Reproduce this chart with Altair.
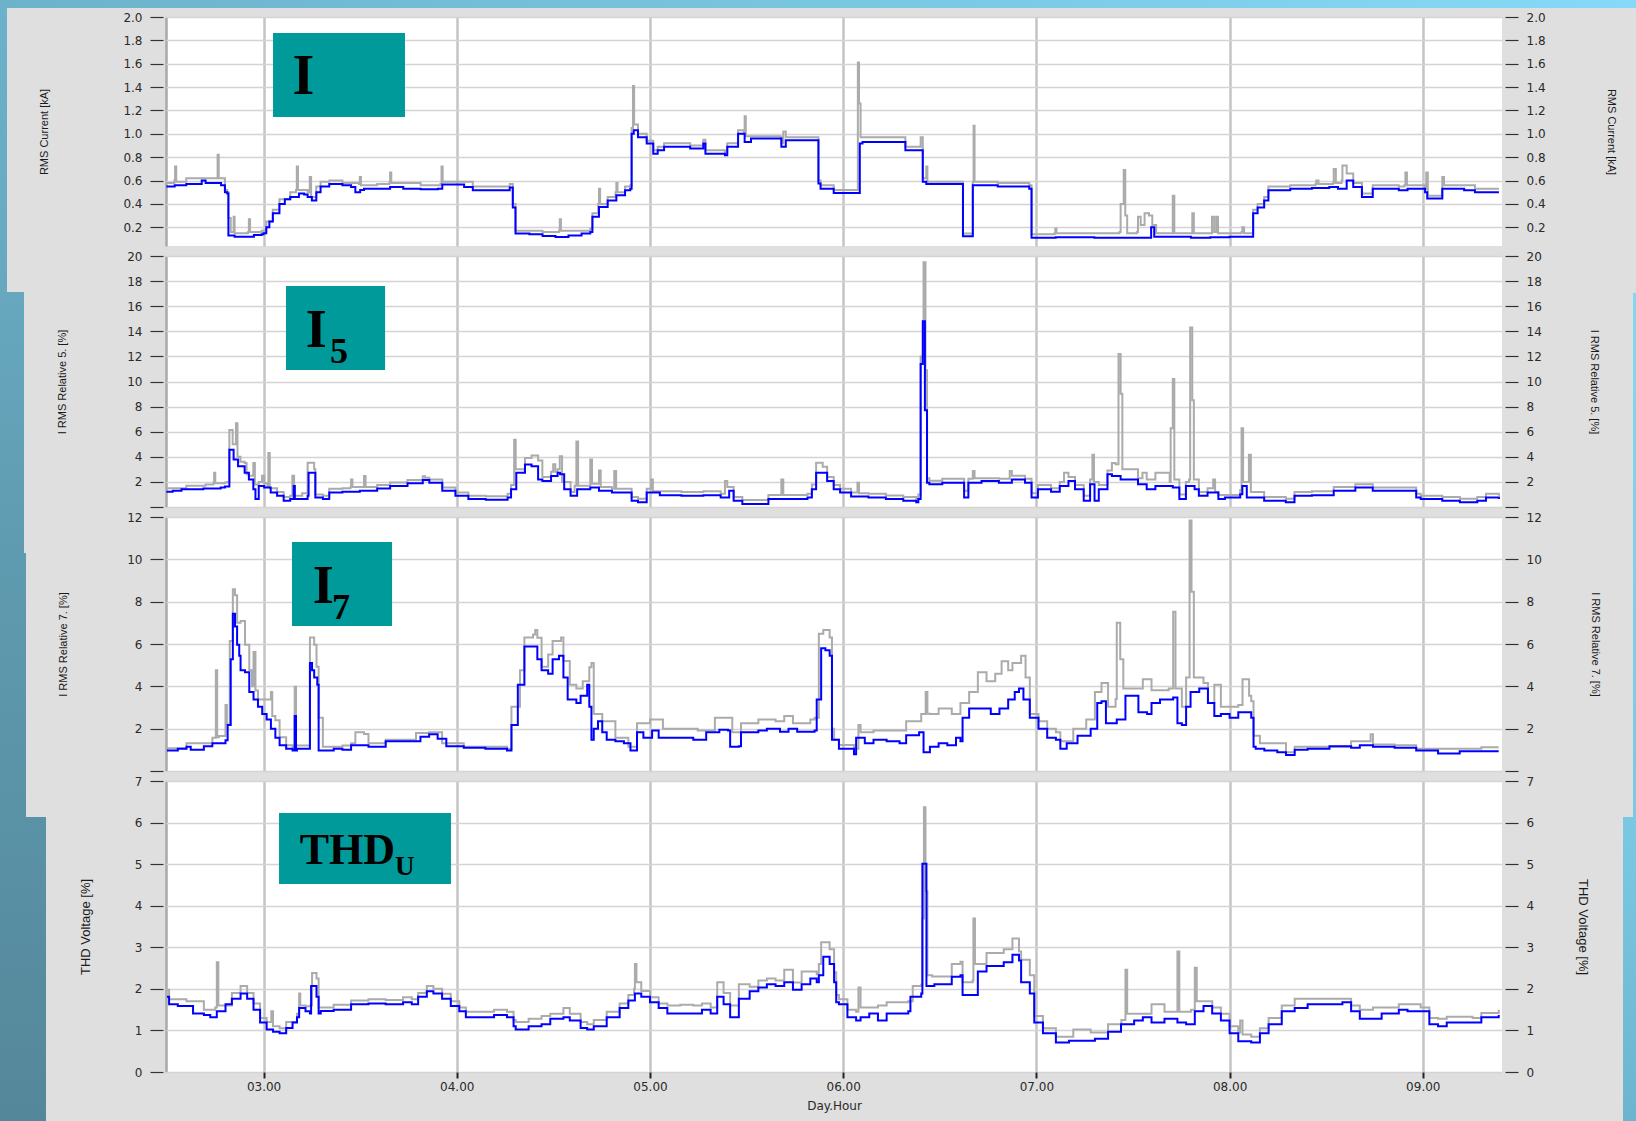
import altair as alt
import pandas as pd

# Time axis in days (day-of-month with fractional hours)
X_MIN, X_MAX = 2.495, 9.41
DAY_TICKS = [3, 4, 5, 6, 7, 8, 9]

# ---------------- RMS current [kA] ----------------
I_AVG = [(2.497,0.55),(2.54,0.56),(2.60,0.57),(2.68,0.60),(2.70,0.58),(2.76,0.58),(2.78,0.56),(2.80,0.50),(2.812,0.49),(2.818,0.13),(2.85,0.12),(2.90,0.12),(2.95,0.135),(2.99,0.14),(3.00,0.15),(3.014,0.20),(3.03,0.25),(3.048,0.32),(3.082,0.40),(3.11,0.44),(3.138,0.46),(3.183,0.49),(3.21,0.48),(3.228,0.46),(3.25,0.43),(3.273,0.50),(3.295,0.55),(3.34,0.57),(3.408,0.56),(3.453,0.546),(3.475,0.50),(3.50,0.52),(3.52,0.53),(3.588,0.53),(3.655,0.546),(3.723,0.53),(3.813,0.526),(3.903,0.53),(3.925,0.566),(3.993,0.566),(4.038,0.546),(4.083,0.517),(4.24,0.517),(4.274,0.54),(4.29,0.37),(4.304,0.146),(4.376,0.14),(4.444,0.126),(4.511,0.117),(4.578,0.13),(4.646,0.146),(4.691,0.16),(4.702,0.29),(4.736,0.374),(4.781,0.43),(4.826,0.474),(4.871,0.517),(4.898,0.53),(4.905,1.0),(4.916,1.03),(4.938,0.97),(4.983,0.917),(5.017,0.83),(5.04,0.86),(5.073,0.89),(5.163,0.89),(5.208,0.874),(5.276,0.917),(5.287,0.83),(5.388,0.817),(5.40,0.89),(5.456,1.0),(5.49,0.93),(5.523,0.96),(5.658,0.96),(5.68,0.89),(5.703,0.946),(5.861,0.946),(5.872,0.574),(5.883,0.53),(5.951,0.494),(6.074,0.494),(6.086,0.917),(6.10,0.93),(6.311,0.93),(6.322,0.86),(6.401,0.86),(6.412,0.59),(6.43,0.57),(6.612,0.57),(6.62,0.123),(6.666,0.123),(6.671,0.56),(6.80,0.55),(6.963,0.53),(6.975,0.11),(7.10,0.115),(7.30,0.11),(7.58,0.11),(7.594,0.20),(7.61,0.12),(7.80,0.11),(7.90,0.115),(8.00,0.12),(8.111,0.12),(8.122,0.32),(8.145,0.37),(8.179,0.43),(8.201,0.517),(8.314,0.53),(8.426,0.536),(8.516,0.546),(8.561,0.53),(8.606,0.60),(8.64,0.546),(8.685,0.46),(8.73,0.46),(8.741,0.53),(8.876,0.517),(8.921,0.53),(9.012,0.50),(9.023,0.446),(9.09,0.446),(9.101,0.53),(9.214,0.517),(9.27,0.50),(9.394,0.50)]
I_MAX = [(2.497,0.58),(2.538,0.60),(2.542,0.72),(2.548,0.59),(2.60,0.62),(2.68,0.62),(2.756,0.62),(2.762,0.82),(2.768,0.62),(2.80,0.52),(2.812,0.50),(2.818,0.28),(2.83,0.16),(2.842,0.16),(2.845,0.29),(2.85,0.15),(2.92,0.16),(2.924,0.27),(2.93,0.16),(2.99,0.17),(3.014,0.25),(3.048,0.35),(3.082,0.44),(3.138,0.50),(3.168,0.52),(3.172,0.72),(3.178,0.52),(3.228,0.50),(3.239,0.63),(3.246,0.46),(3.273,0.55),(3.295,0.59),(3.34,0.60),(3.408,0.58),(3.494,0.57),(3.498,0.63),(3.504,0.56),(3.588,0.57),(3.651,0.58),(3.655,0.67),(3.661,0.58),(3.813,0.56),(3.915,0.57),(3.921,0.72),(3.927,0.59),(3.993,0.59),(4.083,0.55),(4.24,0.55),(4.274,0.57),(4.29,0.40),(4.304,0.17),(4.444,0.16),(4.529,0.17),(4.533,0.27),(4.539,0.17),(4.646,0.17),(4.691,0.19),(4.702,0.32),(4.732,0.40),(4.736,0.53),(4.742,0.40),(4.781,0.46),(4.822,0.50),(4.826,0.58),(4.832,0.50),(4.871,0.55),(4.898,0.56),(4.905,1.05),(4.912,1.41),(4.918,1.08),(4.938,1.0),(4.983,0.94),(5.017,0.86),(5.04,0.89),(5.073,0.92),(5.208,0.90),(5.276,0.95),(5.287,0.86),(5.388,0.84),(5.40,0.92),(5.456,1.03),(5.486,1.0),(5.49,1.15),(5.496,0.98),(5.613,0.98),(5.676,0.97),(5.68,0.92),(5.690,1.02),(5.703,0.97),(5.861,0.97),(5.872,0.60),(5.883,0.56),(5.951,0.52),(6.070,0.52),(6.076,1.61),(6.082,1.26),(6.090,0.97),(6.311,0.97),(6.322,0.89),(6.395,0.89),(6.401,0.97),(6.412,0.62),(6.430,0.72),(6.436,0.59),(6.612,0.59),(6.62,0.146),(6.666,0.146),(6.671,0.59),(6.675,1.07),(6.680,0.59),(6.80,0.58),(6.963,0.56),(6.975,0.14),(7.094,0.15),(7.098,0.19),(7.104,0.15),(7.43,0.16),(7.436,0.40),(7.452,0.69),(7.46,0.30),(7.47,0.15),(7.52,0.16),(7.526,0.29),(7.54,0.22),(7.56,0.32),(7.583,0.30),(7.60,0.22),(7.62,0.15),(7.70,0.15),(7.706,0.47),(7.714,0.15),(7.80,0.15),(7.807,0.32),(7.815,0.15),(7.905,0.15),(7.909,0.29),(7.92,0.16),(7.931,0.29),(7.94,0.15),(8.062,0.16),(8.066,0.20),(8.075,0.15),(8.111,0.15),(8.122,0.35),(8.145,0.40),(8.179,0.46),(8.201,0.55),(8.314,0.56),(8.445,0.57),(8.449,0.60),(8.46,0.57),(8.535,0.58),(8.539,0.70),(8.55,0.58),(8.58,0.60),(8.584,0.73),(8.606,0.66),(8.64,0.58),(8.685,0.49),(8.73,0.49),(8.741,0.56),(8.876,0.55),(8.905,0.56),(8.91,0.67),(8.918,0.56),(9.012,0.53),(9.018,0.67),(9.026,0.47),(9.09,0.47),(9.101,0.63),(9.11,0.56),(9.27,0.53),(9.394,0.53)]

# ---------------- 5th harmonic current [%] ----------------
I5_AVG = [(2.497,1.21),(2.53,1.29),(2.575,1.42),(2.688,1.47),(2.778,1.55),(2.80,1.63),(2.812,1.63),(2.823,4.57),(2.845,3.78),(2.868,3.25),(2.902,2.73),(2.924,2.2),(2.947,1.42),(2.958,0.63),(2.975,1.68),(2.98,1.68),(3.003,1.55),(3.037,1.15),(3.07,0.89),(3.104,0.5),(3.138,0.63),(3.152,0.63),(3.156,1.68),(3.162,0.63),(3.172,0.63),(3.228,0.89),(3.233,2.73),(3.262,2.73),(3.268,0.76),(3.307,0.63),(3.34,1.15),(3.408,1.21),(3.498,1.29),(3.588,1.47),(3.655,1.68),(3.745,1.89),(3.824,2.15),(3.858,1.94),(3.925,1.29),(3.993,0.89),(4.06,0.63),(4.15,0.58),(4.263,0.76),(4.281,1.42),(4.308,2.73),(4.353,3.39),(4.387,3.25),(4.421,2.2),(4.443,2.07),(4.488,2.47),(4.522,2.73),(4.535,2.6),(4.556,1.42),(4.589,0.89),(4.623,1.42),(4.691,1.55),(4.736,1.29),(4.803,1.15),(4.871,1.15),(4.905,0.5),(4.938,0.37),(4.983,1.15),(5.051,0.94),(5.163,0.89),(5.276,0.94),(5.366,0.76),(5.41,1.29),(5.433,0.5),(5.478,0.24),(5.613,0.63),(5.725,0.63),(5.815,0.76),(5.838,1.42),(5.86,2.73),(5.894,2.73),(5.917,2.07),(5.951,1.42),(5.984,1.15),(6.041,0.84),(6.131,0.76),(6.221,0.63),(6.311,0.5),(6.378,0.37),(6.389,0.63),(6.401,11.4),(6.408,11.4),(6.412,14.8),(6.418,14.8),(6.423,7.7),(6.428,7.7),(6.434,1.94),(6.446,1.81),(6.513,1.94),(6.603,1.94),(6.626,0.76),(6.648,1.94),(6.716,2.07),(6.806,1.94),(6.873,2.2),(6.941,1.94),(6.975,0.76),(7.008,1.42),(7.076,1.21),(7.121,1.68),(7.166,2.07),(7.20,1.42),(7.245,0.5),(7.278,1.81),(7.301,0.5),(7.323,1.42),(7.368,2.6),(7.391,2.47),(7.436,2.2),(7.526,1.81),(7.571,1.42),(7.616,1.68),(7.706,1.55),(7.74,0.63),(7.774,1.68),(7.819,1.42),(7.841,0.89),(7.886,1.15),(7.942,0.63),(7.976,0.76),(8.055,1.02),(8.066,1.68),(8.089,0.76),(8.179,0.5),(8.291,0.37),(8.336,0.89),(8.426,0.94),(8.539,1.29),(8.651,1.55),(8.741,1.29),(8.854,1.29),(8.966,0.76),(8.989,0.63),(9.101,0.5),(9.192,0.37),(9.282,0.5),(9.327,0.76),(9.394,0.63)]
I5_MAX = [(2.497,1.5),(2.60,1.7),(2.70,1.8),(2.74,1.9),(2.744,2.73),(2.75,1.9),(2.80,1.95),(2.812,2.0),(2.823,6.14),(2.84,5.0),(2.857,6.67),(2.865,4.0),(2.88,3.6),(2.902,3.5),(2.912,2.6),(2.924,2.5),(2.947,3.5),(2.955,1.8),(2.975,2.0),(2.992,2.5),(3.003,1.9),(3.02,1.6),(3.025,4.3),(3.032,1.5),(3.07,1.2),(3.104,0.8),(3.138,0.9),(3.149,2.5),(3.158,0.9),(3.20,1.1),(3.228,3.52),(3.262,3.0),(3.268,1.0),(3.307,0.9),(3.34,1.45),(3.408,1.5),(3.45,1.6),(3.453,2.2),(3.46,1.6),(3.515,1.6),(3.52,2.47),(3.528,1.6),(3.588,1.75),(3.655,1.95),(3.745,2.15),(3.824,2.45),(3.836,2.34),(3.858,2.2),(3.925,1.55),(3.993,1.15),(4.06,0.9),(4.15,0.85),(4.263,1.05),(4.281,1.75),(4.297,5.35),(4.305,3.0),(4.353,3.9),(4.387,4.1),(4.421,3.7),(4.443,2.4),(4.488,2.8),(4.499,3.4),(4.51,2.8),(4.522,3.0),(4.533,4.04),(4.545,2.0),(4.589,1.2),(4.61,1.7),(4.619,5.22),(4.628,1.7),(4.691,3.78),(4.70,1.85),(4.736,2.9),(4.745,1.6),(4.803,1.45),(4.815,2.86),(4.825,1.45),(4.871,1.45),(4.905,0.8),(4.938,0.65),(4.983,1.45),(5.006,2.2),(5.015,1.25),(5.163,1.2),(5.276,1.25),(5.366,1.05),(5.388,2.07),(5.40,1.6),(5.433,0.8),(5.478,0.55),(5.613,0.95),(5.68,2.2),(5.69,0.95),(5.815,1.05),(5.838,1.8),(5.86,3.52),(5.894,3.2),(5.917,2.4),(5.951,1.75),(5.984,1.45),(6.041,1.15),(6.074,1.94),(6.082,1.1),(6.131,1.05),(6.221,0.92),(6.311,0.8),(6.378,0.65),(6.389,1.0),(6.401,12.0),(6.416,19.5),(6.426,10.9),(6.434,2.3),(6.446,2.1),(6.513,2.25),(6.603,2.25),(6.626,1.3),(6.648,2.25),(6.671,2.86),(6.68,2.3),(6.806,2.25),(6.862,2.86),(6.873,2.5),(6.941,2.25),(6.975,1.1),(7.008,1.75),(7.076,1.5),(7.121,2.0),(7.143,2.73),(7.166,2.4),(7.20,1.75),(7.245,0.9),(7.278,2.2),(7.29,4.17),(7.298,2.0),(7.323,1.75),(7.368,2.9),(7.391,3.5),(7.41,3.4),(7.425,12.2),(7.436,9.03),(7.445,3.0),(7.526,2.3),(7.549,2.73),(7.571,2.2),(7.616,2.73),(7.69,2.0),(7.695,6.27),(7.706,10.2),(7.714,2.2),(7.74,1.0),(7.774,2.0),(7.79,2.2),(7.796,14.3),(7.807,8.5),(7.815,2.2),(7.841,1.2),(7.886,1.5),(7.915,2.2),(7.925,1.2),(7.942,0.95),(8.055,1.35),(8.062,6.27),(8.07,2.0),(8.10,4.17),(8.11,1.2),(8.179,0.8),(8.291,0.65),(8.336,1.2),(8.426,1.25),(8.539,1.6),(8.651,1.81),(8.741,1.55),(8.854,1.55),(8.966,1.05),(8.989,0.9),(9.101,0.8),(9.192,0.65),(9.282,0.8),(9.327,1.05),(9.394,0.9)]

# ---------------- 7th harmonic current [%] ----------------
I7_AVG = [(2.50,0.97),(2.556,1.05),(2.601,1.14),(2.623,1.0),(2.691,1.17),(2.735,1.31),(2.803,1.45),(2.814,2.17),(2.83,5.28),(2.841,7.43),(2.852,6.83),(2.863,5.97),(2.874,5.45),(2.881,4.76),(2.904,4.67),(2.926,3.73),(2.948,3.38),(2.971,3.04),(2.993,2.69),(3.016,2.43),(3.038,2.0),(3.061,1.57),(3.083,1.22),(3.117,1.05),(3.15,0.97),(3.158,0.97),(3.161,2.6),(3.168,0.97),(3.173,1.05),(3.206,1.05),(3.235,1.05),(3.240,5.1),(3.251,4.76),(3.262,4.42),(3.278,4.07),(3.285,0.97),(3.291,0.97),(3.363,1.05),(3.408,1.0),(3.453,1.22),(3.543,1.14),(3.632,1.40),(3.722,1.40),(3.812,1.62),(3.857,1.74),(3.901,1.52),(3.946,1.17),(4.036,1.1),(4.148,1.05),(4.26,0.97),(4.283,2.17),(4.316,4.07),(4.35,5.88),(4.395,5.88),(4.417,5.28),(4.439,4.76),(4.473,4.59),(4.496,5.28),(4.529,5.45),(4.552,4.42),(4.574,3.38),(4.619,3.21),(4.641,3.55),(4.675,4.07),(4.686,3.04),(4.697,1.48),(4.709,2.0),(4.731,2.35),(4.753,1.83),(4.776,1.48),(4.821,1.40),(4.865,1.31),(4.899,0.97),(4.933,1.83),(4.966,1.57),(5.011,1.91),(5.045,1.57),(5.157,1.57),(5.224,1.48),(5.291,1.83),(5.359,1.95),(5.404,1.91),(5.415,1.14),(5.46,1.17),(5.471,1.83),(5.561,1.91),(5.605,2.0),(5.673,1.86),(5.717,2.0),(5.762,1.86),(5.852,1.91),(5.863,3.38),(5.886,5.8),(5.908,5.7),(5.93,5.45),(5.942,1.48),(5.978,1.05),(6.056,0.79),(6.067,1.57),(6.112,1.31),(6.157,1.48),(6.225,1.40),(6.292,1.31),(6.326,1.69),(6.393,1.83),(6.416,0.88),(6.449,1.14),(6.494,1.31),(6.539,1.22),(6.584,1.57),(6.607,1.40),(6.618,2.52),(6.652,2.95),(6.719,2.95),(6.764,2.69),(6.809,2.95),(6.854,3.38),(6.888,3.73),(6.91,3.9),(6.933,3.38),(6.966,2.52),(7.011,2.0),(7.056,1.57),(7.101,1.48),(7.124,1.05),(7.157,1.31),(7.213,1.66),(7.281,2.0),(7.315,3.21),(7.337,3.29),(7.36,2.26),(7.416,2.43),(7.461,3.55),(7.506,3.55),(7.528,2.78),(7.573,2.69),(7.596,3.21),(7.64,3.38),(7.708,3.47),(7.73,2.26),(7.753,2.17),(7.775,3.04),(7.798,3.73),(7.843,3.9),(7.888,3.21),(7.921,2.6),(7.955,2.69),(8.0,2.52),(8.045,2.78),(8.112,2.52),(8.124,1.14),(8.135,1.05),(8.18,0.97),(8.247,0.88),(8.292,0.76),(8.337,1.0),(8.404,1.05),(8.517,1.17),(8.629,1.1),(8.674,1.22),(8.742,1.14),(8.854,1.1),(8.966,0.97),(9.079,0.83),(9.191,0.93),(9.303,0.93),(9.393,0.93)]
I7_MAX = [(2.50,1.07),(2.601,1.31),(2.735,1.57),(2.749,1.57),(2.753,4.76),(2.76,1.6),(2.769,1.65),(2.803,3.12),(2.81,2.2),(2.825,6.14),(2.841,8.59),(2.852,8.3),(2.863,7.0),(2.881,7.09),(2.904,5.97),(2.926,4.76),(2.94,4.0),(2.948,5.62),(2.958,3.8),(2.971,3.38),(3.038,3.73),(3.045,2.6),(3.061,2.4),(3.083,1.6),(3.117,1.22),(3.15,1.15),(3.158,1.2),(3.161,3.98),(3.168,1.2),(3.235,1.2),(3.240,6.31),(3.262,5.97),(3.274,4.93),(3.285,2.52),(3.296,2.52),(3.307,1.15),(3.408,1.2),(3.453,1.31),(3.475,1.83),(3.52,1.75),(3.543,1.31),(3.632,1.48),(3.722,1.48),(3.789,1.79),(3.857,1.83),(3.924,1.31),(4.036,1.14),(4.26,1.05),(4.283,3.04),(4.327,4.76),(4.35,6.31),(4.395,6.45),(4.406,6.66),(4.417,6.3),(4.439,4.93),(4.473,5.5),(4.496,6.14),(4.54,6.31),(4.552,5.2),(4.585,4.07),(4.619,3.9),(4.652,4.24),(4.686,4.9),(4.697,5.1),(4.709,2.69),(4.753,2.35),(4.821,1.57),(4.888,1.14),(4.933,2.26),(5.0,2.43),(5.067,2.0),(5.157,2.0),(5.247,1.91),(5.336,2.52),(5.381,2.52),(5.426,1.83),(5.471,2.26),(5.561,2.43),(5.65,2.35),(5.695,2.6),(5.74,2.26),(5.83,2.43),(5.852,2.52),(5.874,6.49),(5.897,6.66),(5.93,6.31),(5.942,2.0),(5.953,1.48),(5.978,1.23),(6.056,1.05),(6.079,2.17),(6.09,1.83),(6.157,1.91),(6.292,1.91),(6.326,2.35),(6.404,2.69),(6.427,3.73),(6.436,2.7),(6.449,2.69),(6.494,2.95),(6.562,2.69),(6.607,3.21),(6.652,3.73),(6.697,4.67),(6.742,4.24),(6.787,4.59),(6.82,5.19),(6.854,4.76),(6.876,5.1),(6.921,5.45),(6.944,4.42),(6.966,2.69),(7.011,2.35),(7.056,2.0),(7.101,1.83),(7.124,1.4),(7.191,2.0),(7.258,2.43),(7.303,3.73),(7.337,4.16),(7.371,3.04),(7.41,3.4),(7.416,7.0),(7.434,5.28),(7.45,3.9),(7.506,3.9),(7.551,4.33),(7.596,3.81),(7.64,3.81),(7.685,3.9),(7.70,3.9),(7.708,7.52),(7.72,3.9),(7.753,3.04),(7.775,4.42),(7.789,4.42),(7.793,11.83),(7.803,8.47),(7.815,4.42),(7.831,4.42),(7.865,4.16),(7.888,3.21),(7.921,4.07),(7.955,3.04),(8.045,3.12),(8.067,4.33),(8.101,3.55),(8.112,3.3),(8.124,1.66),(8.157,1.31),(8.292,0.88),(8.337,1.14),(8.517,1.14),(8.629,1.4),(8.725,1.4),(8.73,1.74),(8.742,1.25),(8.854,1.22),(8.966,1.05),(9.079,1.05),(9.191,1.05),(9.303,1.12),(9.393,1.12)]

# ---------------- THD voltage [%] ----------------
THD_AVG = [(2.50,1.81),(2.511,1.63),(2.556,1.59),(2.601,1.59),(2.635,1.41),(2.691,1.37),(2.724,1.32),(2.758,1.46),(2.803,1.63),(2.836,1.76),(2.881,1.89),(2.915,1.76),(2.948,1.5),(2.982,1.19),(3.016,1.02),(3.049,0.97),(3.083,0.93),(3.117,1.06),(3.15,1.19),(3.173,1.32),(3.184,1.54),(3.217,1.46),(3.24,1.41),(3.246,2.07),(3.262,2.07),(3.274,1.81),(3.285,1.41),(3.296,1.47),(3.363,1.5),(3.453,1.63),(3.543,1.65),(3.632,1.63),(3.722,1.68),(3.767,1.63),(3.80,1.81),(3.845,1.94),(3.879,1.89),(3.924,1.76),(3.969,1.59),(4.013,1.46),(4.047,1.32),(4.126,1.32),(4.193,1.37),(4.26,1.32),(4.294,1.1),(4.305,1.02),(4.372,1.1),(4.439,1.15),(4.484,1.28),(4.552,1.32),(4.585,1.24),(4.641,1.06),(4.675,1.02),(4.709,1.1),(4.776,1.32),(4.843,1.54),(4.888,1.72),(4.922,1.89),(4.955,1.81),(5.0,1.68),(5.045,1.54),(5.09,1.41),(5.157,1.41),(5.224,1.41),(5.269,1.5),(5.314,1.41),(5.348,1.81),(5.381,1.63),(5.415,1.32),(5.426,1.32),(5.46,1.76),(5.516,1.94),(5.561,2.03),(5.605,2.11),(5.65,2.07),(5.695,2.16),(5.74,1.98),(5.785,2.11),(5.83,2.25),(5.863,2.16),(5.874,2.33),(5.897,2.77),(5.93,2.6),(5.953,2.16),(5.964,1.68),(5.978,1.63),(6.022,1.32),(6.067,1.24),(6.09,1.32),(6.135,1.41),(6.18,1.24),(6.225,1.41),(6.337,1.46),(6.348,1.81),(6.404,1.89),(6.41,5.01),(6.418,5.01),(6.431,2.07),(6.472,2.11),(6.562,2.29),(6.607,2.33),(6.618,1.85),(6.674,1.85),(6.697,2.42),(6.742,2.55),(6.831,2.64),(6.876,2.82),(6.91,2.68),(6.921,2.16),(6.966,1.89),(6.989,1.19),(7.034,0.93),(7.101,0.71),(7.169,0.75),(7.236,0.75),(7.303,0.8),(7.371,0.97),(7.438,1.15),(7.506,1.24),(7.551,1.32),(7.596,1.19),(7.663,1.28),(7.73,1.19),(7.775,1.15),(7.82,1.46),(7.865,1.59),(7.91,1.41),(7.955,1.24),(8.0,0.93),(8.045,0.74),(8.112,0.71),(8.157,0.93),(8.202,1.15),(8.27,1.46),(8.337,1.54),(8.404,1.63),(8.494,1.63),(8.584,1.68),(8.629,1.46),(8.674,1.28),(8.742,1.28),(8.787,1.41),(8.876,1.5),(8.921,1.46),(8.989,1.46),(9.034,1.15),(9.079,1.1),(9.124,1.19),(9.258,1.19),(9.303,1.32),(9.393,1.37)]
THD_MAX = [(2.50,1.98),(2.511,1.75),(2.601,1.7),(2.691,1.5),(2.75,1.55),(2.758,2.64),(2.766,1.6),(2.836,1.9),(2.881,2.07),(2.915,1.9),(2.948,1.65),(2.982,1.3),(3.016,1.2),(3.035,1.2),(3.04,1.46),(3.049,1.1),(3.083,1.05),(3.117,1.2),(3.173,1.4),(3.184,1.89),(3.19,1.6),(3.217,1.58),(3.24,1.6),(3.251,2.38),(3.274,2.25),(3.285,1.55),(3.363,1.62),(3.453,1.72),(3.543,1.75),(3.632,1.73),(3.722,1.8),(3.767,1.75),(3.80,1.9),(3.845,2.07),(3.879,2.0),(3.924,1.88),(3.969,1.7),(4.013,1.55),(4.047,1.45),(4.126,1.45),(4.193,1.5),(4.26,1.45),(4.294,1.25),(4.305,1.2),(4.372,1.28),(4.439,1.35),(4.484,1.4),(4.552,1.54),(4.585,1.4),(4.641,1.2),(4.675,1.15),(4.709,1.25),(4.776,1.45),(4.843,1.65),(4.888,1.85),(4.918,2.0),(4.922,2.6),(4.93,2.16),(4.955,1.95),(5.0,1.8),(5.045,1.65),(5.09,1.6),(5.157,1.62),(5.224,1.6),(5.269,1.65),(5.314,1.55),(5.348,2.16),(5.381,1.9),(5.415,1.6),(5.46,2.11),(5.516,2.05),(5.561,2.2),(5.605,2.25),(5.65,2.2),(5.695,2.46),(5.74,2.15),(5.785,2.42),(5.83,2.42),(5.863,2.35),(5.874,2.6),(5.886,3.12),(5.93,2.95),(5.953,2.4),(5.964,1.85),(5.978,1.75),(6.022,1.5),(6.067,1.45),(6.079,2.03),(6.09,1.55),(6.18,1.6),(6.225,1.68),(6.337,1.7),(6.36,2.07),(6.404,2.1),(6.41,3.69),(6.418,6.37),(6.426,4.35),(6.436,2.33),(6.461,2.3),(6.562,2.6),(6.607,2.65),(6.618,2.16),(6.67,2.2),(6.674,3.69),(6.682,2.6),(6.742,2.86),(6.831,2.95),(6.876,3.21),(6.91,2.9),(6.921,2.7),(6.966,2.33),(6.989,1.35),(7.034,1.05),(7.101,0.85),(7.191,1.02),(7.281,0.95),(7.371,1.15),(7.44,1.25),(7.461,2.46),(7.47,1.4),(7.596,1.63),(7.663,1.45),(7.72,1.45),(7.73,2.9),(7.74,1.45),(7.80,1.5),(7.82,2.51),(7.83,1.7),(7.91,1.55),(7.955,1.4),(8.0,1.1),(8.045,0.95),(8.055,1.24),(8.067,0.9),(8.112,0.85),(8.157,1.05),(8.202,1.3),(8.27,1.6),(8.337,1.76),(8.404,1.76),(8.584,1.76),(8.629,1.6),(8.674,1.5),(8.742,1.55),(8.876,1.63),(8.989,1.55),(9.034,1.3),(9.079,1.28),(9.124,1.33),(9.258,1.3),(9.303,1.42),(9.393,1.5)]

PLOT_W = 1336
BLUE = "#0000ff"
GREY = "#ababab"
TEAL = "#009a9a"
LABEL_FONT = "DejaVu Sans"
EDGE_TEST = "datum.value < 2.9"


def frame(points):
    return pd.DataFrame(points, columns=["day", "val"])


def x_axis(bottom):
    common = dict(
        values=[X_MIN] + DAY_TICKS,
        grid=True,
        gridColor={"condition": {"test": EDGE_TEST, "value": "#a9a9a9"}, "value": "#c4c4c4"},
        gridWidth=2.5,
        domain=False,
    )
    if not bottom:
        return alt.Axis(labels=False, ticks=False, title="", **common)
    return alt.Axis(
        labelExpr="datum.value < 2.9 ? '' : (datum.value < 10 ? '0' : '') + format(datum.value, '.2f')",
        labelFont=LABEL_FONT, labelFontSize=12, labelColor="#2a2a2a", labelPadding=3,
        labelFlush=False,
        ticks=True, tickSize=6, tickWidth=2, tickColor="#222222",
        tickOpacity={"condition": {"test": EDGE_TEST, "value": 0}, "value": 1},
        title="Day.Hour", titleFont=LABEL_FONT, titleFontSize=12, titleFontWeight="normal",
        titleColor="#2a2a2a", titlePadding=8,
        **common,
    )


def y_axis(side, ticks, fmt, title, height, title_x, title_size):
    label_expr = f"datum.value == 0 && {ticks[-1]} > 7 ? '' : format(datum.value, '{fmt}')"
    opts = dict(
        orient=side, values=ticks, labelExpr=label_expr,
        labelFont=LABEL_FONT, labelFontSize=12, labelColor="#2a2a2a", labelPadding=8,
        domain=False, ticks=True, tickSize=13, tickWidth=1.2, tickColor="#333333", offset=3,
        title=title, titleFont="Liberation Sans", titleFontSize=title_size,
        titleFontWeight="normal", titleColor="#1a1a1a",
        titleX=title_x, titleY=height / 2, titleBaseline="middle", titleAlign="center",
        titleAngle=270 if side == "left" else 90,
    )
    if side == "left":
        return alt.Axis(grid=True, gridColor="#d6d3d6", gridWidth=1.5, **opts)
    return alt.Axis(grid=False, **opts)


def panel(avg, mx, domain, ticks, fmt, title, height, box, labels,
          left_title_x, right_title_x, title_size=11, bottom=False, decor=()):
    xs = alt.Scale(domain=[X_MIN, X_MAX], nice=False, zero=False)
    ys = alt.Scale(domain=domain, nice=False, zero=False)
    xa = x_axis(bottom)

    # recorder data is sample-and-hold, so both traces are drawn as steps
    grey = alt.Chart(frame(mx)).mark_line(
        color=GREY, strokeWidth=2, clip=True, interpolate="step-after"
    ).encode(
        x=alt.X("day:Q", scale=xs, axis=xa),
        y=alt.Y("val:Q", scale=ys,
                axis=y_axis("left", ticks, fmt, title, height, left_title_x, title_size)),
    )
    blue = alt.Chart(frame(avg)).mark_line(
        color=BLUE, strokeWidth=2, clip=True, interpolate="step-after"
    ).encode(
        x=alt.X("day:Q", scale=xs, axis=xa),
        y=alt.Y("val:Q", scale=ys,
                axis=y_axis("right", ticks, fmt, title, height, right_title_x, title_size)),
    )
    x0, x1, y0, y1 = box
    tag_box = alt.Chart(pd.DataFrame([{"day": x0, "day_end": x1, "val": y0, "val_end": y1}])).mark_rect(
        color=TEAL
    ).encode(
        x=alt.X("day:Q", scale=xs, axis=xa), x2="day_end:Q",
        y=alt.Y("val:Q", scale=ys, axis=None), y2="val_end:Q",
    )
    tag_text = alt.Chart(pd.DataFrame(labels, columns=["day", "val", "txt", "fs"])).mark_text(
        font="Liberation Serif", fontWeight="bold", align="left", baseline="alphabetic", color="black"
    ).encode(
        x=alt.X("day:Q", scale=xs, axis=xa),
        y=alt.Y("val:Q", scale=ys, axis=None),
        text="txt:N",
        size=alt.Size("fs:Q", scale=None, legend=None),
    )
    layers = list(decor) + [grey, blue, tag_box, tag_text]
    return alt.layer(*layers).resolve_scale(y="independent").properties(width=PLOT_W, height=height)


def strip(x0, x1, y0, y1, c0, c1, horizontal=False):
    grad = alt.LinearGradient(
        gradient="linear",
        stops=[alt.GradientStop(color=c0, offset=0), alt.GradientStop(color=c1, offset=1)],
        x1=0, y1=0, x2=1 if horizontal else 0, y2=0 if horizontal else 1,
    )
    return alt.Chart(alt.Data(values=[{"k": 1}])).mark_rect(fill=grad, strokeWidth=0).encode(
        x=alt.value(x0), x2=alt.value(x1), y=alt.value(y0), y2=alt.value(y1)
    )


# Blue slide border around the stacked recorder panels (offsets from the first plot's corner)
border = [
    strip(-166, 1470, -17, -9, "#6cb2ca", "#86daf7", horizontal=True),
    strip(-166, -159, -9, 275, "#6cb2ca", "#67a8bf"),
    strip(-166, -142, 275, 536, "#67a8bf", "#5f9bb0"),
    strip(-166, -140, 536, 800, "#5f9bb0", "#5a92a6"),
    strip(-166, -120, 800, 1104, "#5a92a6", "#55879a"),
    strip(1467, 1470, 276, 800, "#86d6f2", "#7cc8e2"),
    strip(1457, 1470, 800, 1104, "#7cc8e2", "#6db5cf"),
]

p_i = panel(
    I_AVG, I_MAX, [0.04, 2.0], [0.2, 0.4, 0.6, 0.8, 1.0, 1.2, 1.4, 1.6, 1.8, 2.0], ".1f",
    "RMS Current [kA]", 229,
    (3.049, 3.732, 1.863, 1.144), [(3.150, 1.341, "I", 56)],
    -119, 105, decor=border,
)
p_i5 = panel(
    I5_AVG, I5_MAX, [0, 20], list(range(0, 21, 2)), "d",
    "I RMS Relative 5. [%]", 251,
    (3.116, 3.629, 17.61, 10.92), [(3.218, 12.75, "I", 54), (3.344, 11.47, "5", 36)],
    -101, 88,
)
p_i7 = panel(
    I7_AVG, I7_MAX, [0, 12], list(range(0, 13, 2)), "d",
    "I RMS Relative 7. [%]", 254,
    (3.147, 3.665, 10.82, 6.85), [(3.254, 7.94, "I", 54), (3.354, 7.18, "7", 36)],
    -100, 89,
)
p_thd = panel(
    THD_AVG, THD_MAX, [0, 7], list(range(0, 8)), "d",
    "THD Voltage [%]", 291,
    (3.080, 3.970, 6.23, 4.52), [(3.187, 5.00, "THD", 44), (3.680, 4.74, "U", 27)],
    -78, 77, title_size=13, bottom=True,
)

chart = alt.vconcat(p_i, p_i5, p_i7, p_thd, spacing=10, bounds="flush").properties(
    padding=0, background="#dfdfdf"
).configure_view(strokeWidth=0, fill="white")

chart.save("out.html", embed_options={"renderer": "svg", "actions": False})
